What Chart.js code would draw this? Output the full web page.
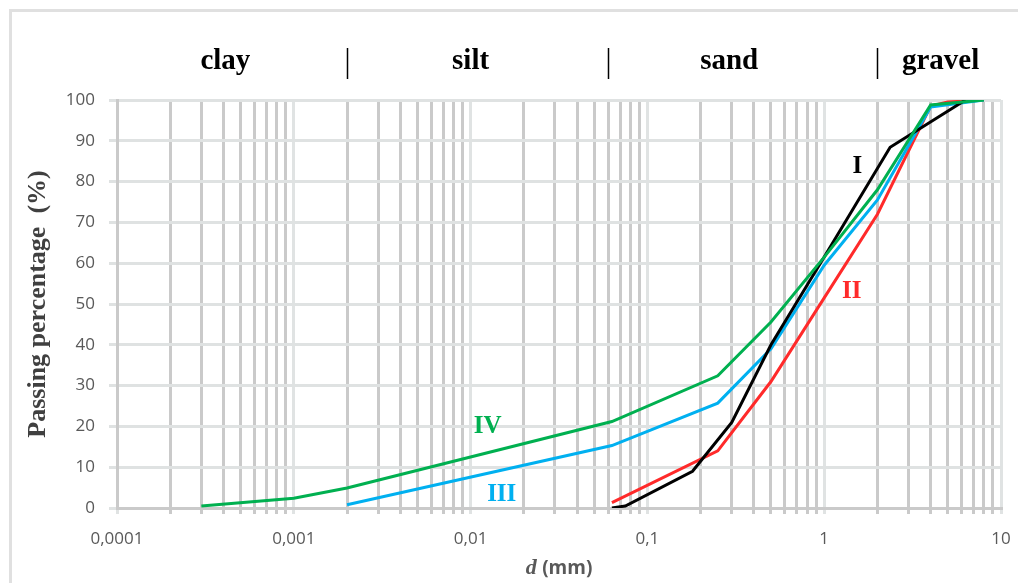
<!DOCTYPE html>
<html lang="en">
<head>
    <meta charset="UTF-8" />
    <title>Grain size distribution</title>
    <style>
        html, body { margin: 0; padding: 0; background: #fff; }
        body { width: 1018px; height: 583px; position: relative; overflow: hidden; }
        .frame {
            position: absolute; left: 9px; top: 9px; width: 1030px; height: 600px;
            border: 3px solid #e0e0e0; box-sizing: border-box;
        }
        .chart-box { position: absolute; left: 0; top: 0; width: 1018px; height: 583px; }
    </style>
</head>
<body>
    <div class="frame"></div>
    <div class="chart-box">
        <canvas id="gradingChart" width="1018" height="583"></canvas>
    </div>

    <script src="https://cdn.jsdelivr.net/npm/chart.js"></script>
    <script>
        // grain size (mm) and passing percentage for each sample
        const sizesI = [0.063, 0.075, 0.18, 0.3, 0.5, 1, 2.36, 6.3];
        const passI = [0, 0.5, 9, 21, 40, 61.5, 88.4, 100];

        const sizesII = [0.063, 0.25, 0.5, 1, 2, 4, 5, 8];
        const passII = [1.3, 14, 31, 51.5, 72, 98.5, 99.5, 100];

        const sizesIII = [0.002, 0.063, 0.25, 0.5, 1, 2, 4, 8];
        const passIII = [0.8, 15.3, 25.7, 39, 59.5, 75.5, 98.3, 100];

        const sizesIV = [0.0003, 0.001, 0.002, 0.063, 0.25, 0.5, 1, 2, 4, 8];
        const passIV = [0.5, 2.4, 4.9, 21.2, 32.4, 45.6, 61.5, 78, 98.8, 100];

        // x axis decades and their labels
        const decades = [0.0001, 0.001, 0.01, 0.1, 1, 10];
        const decadeLabels = ['0,0001', '0,001', '0,01', '0,1', '1', '10'];
        const yTicks = [0, 10, 20, 30, 40, 50, 60, 70, 80, 90, 100];

        // soil classes above the plot
        const zoneNames = ['clay', 'silt', 'sand', 'gravel'];
        const zoneCenters = [0.00041, 0.01, 0.29, 4.55];
        const zoneBounds = [0.002, 0.06, 2];

        // curve names, placed in data units (mm, %)
        const curveNames = ['I', 'II', 'III', 'IV'];
        const curveColors = ['#000000', '#ff2a2a', '#00b0f0', '#00b050'];
        const nameAtSize = [1.54, 1.43, 0.0150, 0.0125];
        const nameAtPass = [82.1, 51.5, 1.7, 18.4];

        const toPoints = (xs, ys) => xs.map((v, i) => ({ x: v, y: ys[i] }));

        // every 1..9 multiple of each decade, for the log grid
        const gridValues = [];
        decades.forEach(d => {
            for (let m = 1; m <= 9; m++) {
                const v = Number((d * m).toPrecision(3));
                if (v <= 10) gridValues.push(v);
            }
        });
        const decadeIndex = v => decades.findIndex(d => Math.abs(v / d - 1) < 1e-6);

        const annotate = {
            id: 'annotate',
            afterDraw(chart) {
                const { ctx, chartArea } = chart;
                const x = chart.scales.x, y = chart.scales.y;
                ctx.save();

                ctx.fillStyle = '#000';
                ctx.textAlign = 'center';
                ctx.textBaseline = 'alphabetic';
                ctx.font = 'bold 29px "Liberation Serif"';
                zoneNames.forEach((n, i) => ctx.fillText(n, x.getPixelForValue(zoneCenters[i]), 69));

                ctx.strokeStyle = '#000';
                ctx.lineWidth = 1.5;
                zoneBounds.forEach(b => {
                    const px = Math.round(x.getPixelForValue(b)) + 0.5;
                    ctx.beginPath();
                    ctx.moveTo(px, 48);
                    ctx.lineTo(px, 79);
                    ctx.stroke();
                });

                ctx.font = 'bold 25px "Liberation Serif"';
                curveNames.forEach((n, i) => {
                    ctx.fillStyle = curveColors[i];
                    ctx.fillText(n, x.getPixelForValue(nameAtSize[i]), y.getPixelForValue(nameAtPass[i]));
                });

                // y title
                ctx.save();
                ctx.translate(38, (chartArea.top + chartArea.bottom) / 2);
                ctx.rotate(-Math.PI / 2);
                ctx.fillStyle = '#404040';
                ctx.textBaseline = 'middle';
                ctx.font = 'bold 26px "Liberation Serif"';
                ctx.fillText('Passing percentage  (%)', 0, 0);
                ctx.restore();

                // x title: italic d + (mm)
                const fD = 'italic bold 22px "Liberation Serif"';
                const fU = 'bold 19px "Open Sans"';
                ctx.font = fD;
                const wD = ctx.measureText('d ').width;
                ctx.font = fU;
                const wU = ctx.measureText('(mm)').width;
                let sx = (chartArea.left + chartArea.right) / 2 - (wD + wU) / 2;
                ctx.textAlign = 'left';
                ctx.fillStyle = '#595959';
                ctx.font = fD;
                ctx.fillText('d', sx, 574);
                ctx.font = fU;
                ctx.fillText('(mm)', sx + wD, 574);

                ctx.restore();
            }
        };

        const datasets = [
            { label: 'IV', data: toPoints(sizesIV, passIV), borderColor: curveColors[3] },
            { label: 'I', data: toPoints(sizesI, passI), borderColor: curveColors[0] },
            { label: 'III', data: toPoints(sizesIII, passIII), borderColor: curveColors[2] },
            { label: 'II', data: toPoints(sizesII, passII), borderColor: curveColors[1] }
        ].map(ds => Object.assign(ds, {
            borderWidth: 3,
            pointRadius: 0,
            fill: false,
            tension: 0
        }));

        const tickFont = { family: '"Open Sans"', size: 17 };

        new Chart(document.getElementById('gradingChart'), {
            type: 'line',
            data: { datasets: datasets },
            options: {
                responsive: false,
                animation: false,
                layout: { padding: { left: 0, top: 100, right: 17, bottom: 0 } },
                plugins: { legend: { display: false }, tooltip: { enabled: false } },
                scales: {
                    x: {
                        type: 'logarithmic',
                        min: 0.0001,
                        max: 10,
                        afterBuildTicks: s => { s.ticks = gridValues.map(v => ({ value: v })); },
                        afterFit: s => {
                            s.height = 75;
                            s.paddingLeft = 0;
                            s.paddingRight = 0;
                        },
                        ticks: {
                            autoSkip: false,
                            maxRotation: 0,
                            padding: 15,
                            color: '#595959',
                            font: tickFont,
                            callback: v => {
                                const k = decadeIndex(v);
                                return k >= 0 ? decadeLabels[k] : '';
                            }
                        },
                        grid: {
                            color: c => (c.tick && decadeIndex(c.tick.value) >= 0) ? '#e0e3e3' : '#cacaca',
                            lineWidth: 3,
                            tickLength: 6
                        },
                        border: { color: '#cacaca', width: 3 }
                    },
                    y: {
                        min: 0,
                        max: 100,
                        afterBuildTicks: s => { s.ticks = yTicks.map(v => ({ value: v })); },
                        afterFit: s => { s.width = 117; },
                        ticks: {
                            padding: 14,
                            color: '#595959',
                            font: tickFont
                        },
                        grid: { color: '#dfe2e2', lineWidth: 3, tickLength: 8 },
                        border: { color: '#cacaca', width: 3 }
                    }
                }
            },
            plugins: [annotate]
        });
    </script>
</body>
</html>
